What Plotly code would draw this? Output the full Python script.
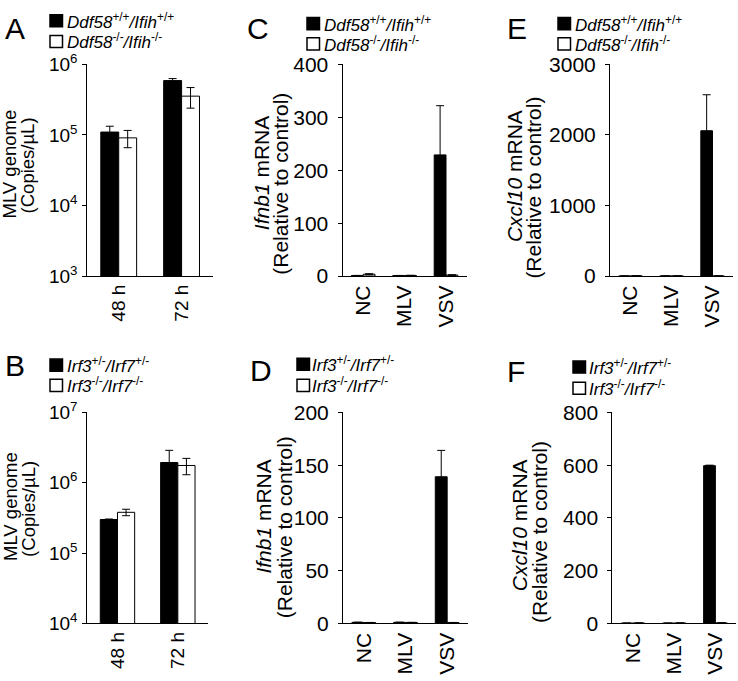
import plotly.graph_objects as go

W, H = 738, 681
FONT = "Liberation Sans, Arial, sans-serif"

# ---------------- data ----------------
time_cats = ["48 h", "72 h"]
virus_cats = ["NC", "MLV", "VSV"]

# Panel A (MLV genome, copies/uL) Ddf58/Ifih
A_wt = [1.1e5, 5.9e5]
A_wt_err = [2.3e4, 4.0e4]
A_ko = [9.1e4, 3.55e5]
A_ko_err = [2.5e4, 1.15e5]

# Panel B (MLV genome) Irf3/Irf7
B_het = [3.0e5, 1.94e6]
B_het_err = [5.0e3, 9.5e5]
B_ko = [3.8e5, 1.76e6]
B_ko_err = [4.0e4, 4.6e5]

# Panel C Ifnb1 mRNA, Ddf58/Ifih
C_wt = [1.0, 1.0, 229]
C_wt_err = [0.3, 0.2, 93]
C_ko = [3.5, 1.2, 2.0]
C_ko_err = [1.0, 0.3, 0.5]

# Panel D Ifnb1 mRNA, Irf3/Irf7
D_het = [1.0, 1.0, 139]
D_het_err = [0.2, 0.2, 25]
D_ko = [0.8, 0.9, 0.8]
D_ko_err = [0.1, 0.1, 0.1]

# Panel E Cxcl10 mRNA, Ddf58/Ifih
E_wt = [1.0, 1.2, 2060]
E_wt_err = [0.2, 0.3, 510]
E_ko = [3.0, 2.0, 1.5]
E_ko_err = [0.5, 0.5, 0.3]

# Panel F Cxcl10 mRNA, Irf3/Irf7
F_het = [1.0, 1.0, 598]
F_het_err = [0.2, 0.2, 2]
F_ko = [1.5, 1.5, 2.0]
F_ko_err = [0.3, 0.3, 0.3]

log_ticks_A = [1e3, 1e4, 1e5, 1e6]
log_text_A = ["10<sup>3</sup>", "10<sup>4</sup>", "10<sup>5</sup>", "10<sup>6</sup>"]
log_ticks_B = [1e4, 1e5, 1e6, 1e7]
log_text_B = ["10<sup>4</sup>", "10<sup>5</sup>", "10<sup>6</sup>", "10<sup>7</sup>"]

ddf_wt_name = "<i>Ddf58</i><sup>+/+</sup><i>/Ifih</i><sup>+/+</sup>"
ddf_ko_name = "<i>Ddf58</i><sup>-/-</sup><i>/Ifih</i><sup>-/-</sup>"
irf_het_name = "<i>Irf3</i><sup>+/-</sup><i>/Irf7</i><sup>+/-</sup>"
irf_ko_name = "<i>Irf3</i><sup>-/-</sup><i>/Irf7</i><sup>-/-</sup>"

titles = {
    "A": ("MLV genome", "(Copies/µL)"),
    "B": ("MLV genome", "(Copies/µL)"),
    "C": ("<i>Ifnb1</i> mRNA", "(Relative to control)"),
    "D": ("<i>Ifnb1</i> mRNA", "(Relative to control)"),
    "E": ("<i>Cxcl10</i> mRNA", "(Relative to control)"),
    "F": ("<i>Cxcl10</i> mRNA", "(Relative to control)"),
}

# ---------------- layout geometry (pixels) ----------------
panels = {
    # key: (x0, x1, ytop, ybottom)
    "A": (87.3, 213.0, 53.3, 272.7),
    "B": (87.3, 208.0, 414.0, 632.7),
    "C": (342.5, 466.7, 53.3, 272.7),
    "D": (343.0, 468.0, 414.0, 632.7),
    "E": (610.0, 733.0, 53.3, 272.7),
    "F": (612.3, 736.0, 414.0, 632.7),
}
order = ["A", "C", "E", "B", "D", "F"]

fig = go.Figure()


def add_pair(idx, cats, v1, e1, v2, e2, n1, n2):
    xa = "x" if idx == 1 else f"x{idx}"
    ya = "y" if idx == 1 else f"y{idx}"
    for vals, errs, fill, name in ((v1, e1, "black", n1), (v2, e2, "white", n2)):
        fig.add_trace(go.Bar(
            x=cats, y=vals, name=name, xaxis=xa, yaxis=ya,
            marker=dict(color=fill, line=dict(color="black", width=1)),
            error_y=dict(type="data", array=errs, visible=True,
                         color="black", thickness=1, width=4),
            showlegend=False,
        ))


add_pair(1, time_cats, A_wt, A_wt_err, A_ko, A_ko_err, ddf_wt_name, ddf_ko_name)
add_pair(2, virus_cats, C_wt, C_wt_err, C_ko, C_ko_err, ddf_wt_name, ddf_ko_name)
add_pair(3, virus_cats, E_wt, E_wt_err, E_ko, E_ko_err, ddf_wt_name, ddf_ko_name)
add_pair(4, time_cats, B_het, B_het_err, B_ko, B_ko_err, irf_het_name, irf_ko_name)
add_pair(5, virus_cats, D_het, D_het_err, D_ko, D_ko_err, irf_het_name, irf_ko_name)
add_pair(6, virus_cats, F_het, F_het_err, F_ko, F_ko_err, irf_het_name, irf_ko_name)

yspecs = {
    "A": dict(type="log", range=[3, 6], tickvals=log_ticks_A, ticktext=log_text_A),
    "B": dict(type="log", range=[4, 7], tickvals=log_ticks_B, ticktext=log_text_B),
    "C": dict(range=[0, 400], tickvals=[0, 100, 200, 300, 400]),
    "D": dict(range=[0, 200], tickvals=[0, 50, 100, 150, 200]),
    "E": dict(range=[0, 3000], tickvals=[0, 1000, 2000, 3000]),
    "F": dict(range=[0, 800], tickvals=[0, 200, 400, 600, 800]),
}

layout = dict(
    width=W, height=H, margin=dict(l=0, r=0, t=0, b=0),
    paper_bgcolor="white", plot_bgcolor="white",
    barmode="group", bargap=0.43, bargroupgap=0,
    font=dict(family=FONT, color="black"),
    showlegend=False,
)

for i, key in enumerate(order, start=1):
    x0, x1, yt, yb = panels[key]
    sfx = "" if i == 1 else str(i)
    spec = yspecs[key]
    small = key in ("A", "B")
    ncat = 2 if small else 3
    layout["xaxis" + sfx] = dict(
        domain=[x0 / W, x1 / W], anchor="y" + sfx,
        range=[-0.5, ncat - 0.5], showline=True, linecolor="black", linewidth=1,
        ticks="", showgrid=False, zeroline=False, tickangle=-90,
        tickfont=dict(family=FONT, size=19 if small else 21, color="black"),
        fixedrange=True,
    )
    yax = dict(
        domain=[1 - yb / H, 1 - yt / H], anchor="x" + sfx,
        range=spec["range"], tickvals=spec["tickvals"],
        showline=True, linecolor="black", linewidth=1,
        ticks="outside", ticklen=4, tickcolor="black", tickwidth=1,
        ticklabelstandoff=1 if small else 5,
        showgrid=False, zeroline=False,
        tickfont=dict(family=FONT, size=19 if small else 21, color="black"),
        fixedrange=True,
    )
    if spec.get("type") == "log":
        yax["type"] = "log"
        yax["ticktext"] = spec["ticktext"]
    layout["yaxis" + sfx] = yax

fig.update_layout(**layout)

# Y-axis titles (two lines each, rotated)
title_pos = {
    # key: (line1 x, line1 y, line2 x, line2 y, font size)
    "A": (9, 157, 27, 158, 18.5),
    "B": (11, 512, 29, 514, 18.5),
    "C": (261, 166, 281, 177, 21),
    "D": (264, 522, 284, 533, 21),
    "E": (514, 169, 534, 181, 21),
    "F": (519, 531, 539, 538, 21),
}
for k, (x1, y1, x2, y2, fs) in title_pos.items():
    for (tx, ty), txt in zip(((x1, y1), (x2, y2)), titles[k]):
        fig.add_annotation(text=txt, x=tx / W, y=1 - ty / H, xref="paper", yref="paper",
                           xanchor="center", yanchor="middle", textangle=-90,
                           showarrow=False,
                           font=dict(family=FONT, size=fs, color="black"))

# Panel letters
letters = {"A": (3, 16), "C": (245, 16), "E": (505, 16),
           "B": (3, 365), "D": (248, 371), "F": (505, 372)}
for k, (px, py) in letters.items():
    fig.add_annotation(text=k, x=px / W, y=1 - py / H, xref="paper", yref="paper",
                       xanchor="left", yanchor="middle", showarrow=False,
                       font=dict(family=FONT, size=30, color="black"))

# Legends (per panel): swatch left x, text x, row1 y, row2 y
legend_pos = {
    "A": (50, 65, 8, 29.5, ddf_wt_name, ddf_ko_name),
    "C": (307, 322, 11, 32, ddf_wt_name, ddf_ko_name),
    "E": (558, 573, 11, 32, ddf_wt_name, ddf_ko_name),
    "B": (50, 65, 365, 386, irf_het_name, irf_ko_name),
    "D": (297, 310, 364, 386, irf_het_name, irf_ko_name),
    "F": (573, 587, 367, 389, irf_het_name, irf_ko_name),
}
SW = 12.5
for k, (sx, tx, r1, r2, n1, n2) in legend_pos.items():
    for ry, fill, name in ((r1, "black", n1), (r2, "white", n2)):
        fig.add_shape(type="rect", xref="paper", yref="paper",
                      x0=sx / W, x1=(sx + SW) / W,
                      y0=1 - (ry + SW / 2) / H, y1=1 - (ry - SW / 2) / H,
                      fillcolor=fill, line=dict(color="black", width=1.5))
        fig.add_annotation(
            text=name, x=tx / W, y=1 - ry / H, xref="paper", yref="paper",
            xanchor="left", yanchor="middle", showarrow=False,
            font=dict(family=FONT, size=17, color="black"))

fig.write_html("out.html", config={"displayModeBar": False},
               post_script="document.body.style.margin='0px';")
